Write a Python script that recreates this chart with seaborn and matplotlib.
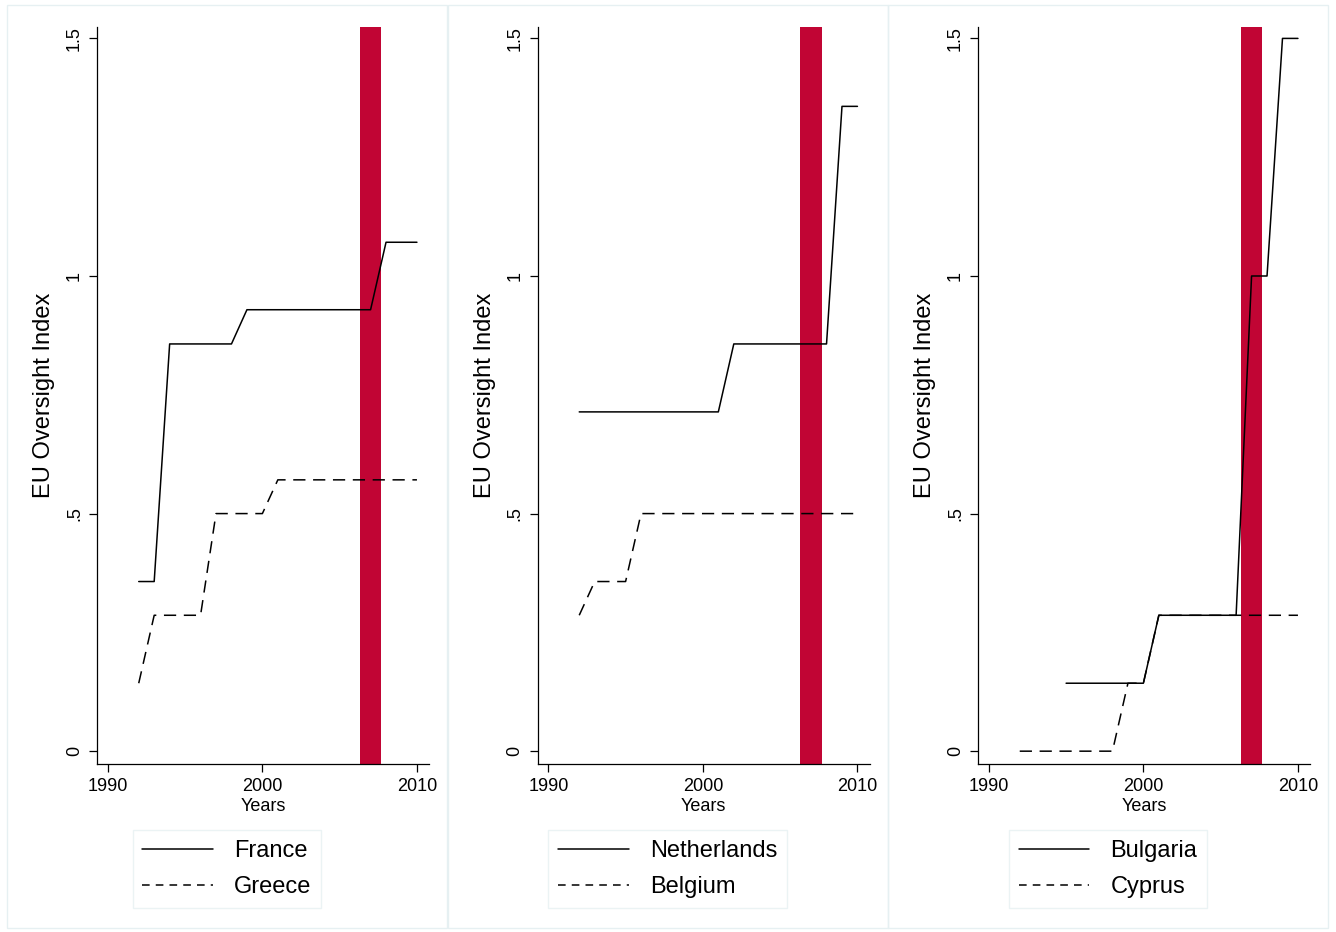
import pandas as pd
import seaborn as sns
import matplotlib.pyplot as plt
from matplotlib.patches import Rectangle
from matplotlib.lines import Line2D

# data (index values, steps of 1/14)
years = list(range(1992, 2011))
years_bg = list(range(1995, 2011))

france = [0.357, 0.357, 0.857, 0.857, 0.857, 0.857, 0.857, 0.929, 0.929, 0.929,
          0.929, 0.929, 0.929, 0.929, 0.929, 0.929, 1.071, 1.071, 1.071]
greece = [0.143, 0.286, 0.286, 0.286, 0.286, 0.5, 0.5, 0.5, 0.5, 0.571,
          0.571, 0.571, 0.571, 0.571, 0.571, 0.571, 0.571, 0.571, 0.571]
netherlands = [0.714, 0.714, 0.714, 0.714, 0.714, 0.714, 0.714, 0.714, 0.714, 0.714,
               0.857, 0.857, 0.857, 0.857, 0.857, 0.857, 0.857, 1.357, 1.357]
belgium = [0.286, 0.357, 0.357, 0.357, 0.5, 0.5, 0.5, 0.5, 0.5, 0.5,
           0.5, 0.5, 0.5, 0.5, 0.5, 0.5, 0.5, 0.5, 0.5]
bulgaria = [0.143, 0.143, 0.143, 0.143, 0.143, 0.143, 0.286, 0.286, 0.286, 0.286,
            0.286, 0.286, 1.0, 1.0, 1.5, 1.5]
cyprus = [0, 0, 0, 0, 0, 0, 0, 0.143, 0.143, 0.286,
          0.286, 0.286, 0.286, 0.286, 0.286, 0.286, 0.286, 0.286, 0.286]

x_ticks = [1990, 2000, 2010]
y_ticks = [0, 0.5, 1, 1.5]
y_tick_labels = ["0", ".5", "1", "1.5"]
crisis = (2006.3, 2007.7)

panels = [
    ("France", years, france, "Greece", years, greece),
    ("Netherlands", years, netherlands, "Belgium", years, belgium),
    ("Bulgaria", years_bg, bulgaria, "Cyprus", years, cyprus),
]

sns.set_style("white")
plt.rcParams['font.family'] = ['Liberation Sans', 'DejaVu Sans']
plt.rcParams['text.color'] = 'black'
plt.rcParams['axes.labelcolor'] = 'black'

W, H = 1336, 932
fig = plt.figure(figsize=(W / 100, H / 100), dpi=100)
fig.patch.set_facecolor("white")

border = "#E6F0F2"
red = "#C10534"
dash = (0, (8, 5))
panel_left = [7, 447.5, 888]

for i, (n1, x1, v1, n2, x2, v2) in enumerate(panels):
    px = panel_left[i]
    fig.patches.append(Rectangle((px / W, (H - 928) / H), 440 / W, 923 / H,
                                 transform=fig.transFigure, fill=False,
                                 edgecolor=border, lw=1))
    ax = fig.add_axes([(px + 90) / W, (H - 764) / H, 332 / W, 737 / H])
    ax.axvspan(*crisis, color=red, lw=0, zorder=1)

    d1 = pd.DataFrame({"Years": x1, "idx": v1})
    d2 = pd.DataFrame({"Years": x2, "idx": v2})
    sns.lineplot(data=d2, x="Years", y="idx", ax=ax, color="black", lw=1.1,
                 linestyle=dash, zorder=3)
    sns.lineplot(data=d1, x="Years", y="idx", ax=ax, color="black", lw=1.1,
                 zorder=4)

    ax.set_xlim(1989.3, 2010.78)
    ax.set_ylim(-0.027, 1.524)
    ax.set_xticks(x_ticks)
    ax.set_yticks(y_ticks)
    ax.set_yticklabels(y_tick_labels, rotation=90, va="center")
    sns.despine(ax=ax)
    for s in ["left", "bottom"]:
        ax.spines[s].set_linewidth(0.9)
        ax.spines[s].set_color("black")
    ax.tick_params(bottom=True, left=True, direction="out", length=6, width=0.9,
                   labelsize=13, colors="black", pad=4)
    ax.set_xlabel("Years", fontsize=13, labelpad=2)
    ax.set_ylabel("EU Oversight Index", fontsize=17, labelpad=8)

    handles = [Line2D([], [], color="black", lw=1.1),
               Line2D([], [], color="black", lw=1.1, linestyle=(0, (5, 4)))]
    leg = fig.legend(handles, [n1, n2], loc="center",
                     bbox_to_anchor=((px + 220) / W, (H - 869) / H),
                     frameon=True, fancybox=False, edgecolor=border,
                     fontsize=17, handlelength=3, handletextpad=0.9,
                     labelspacing=0.6, borderpad=0.4)
    leg.get_frame().set_linewidth(1)

plt.savefig("out.png", dpi=100)
